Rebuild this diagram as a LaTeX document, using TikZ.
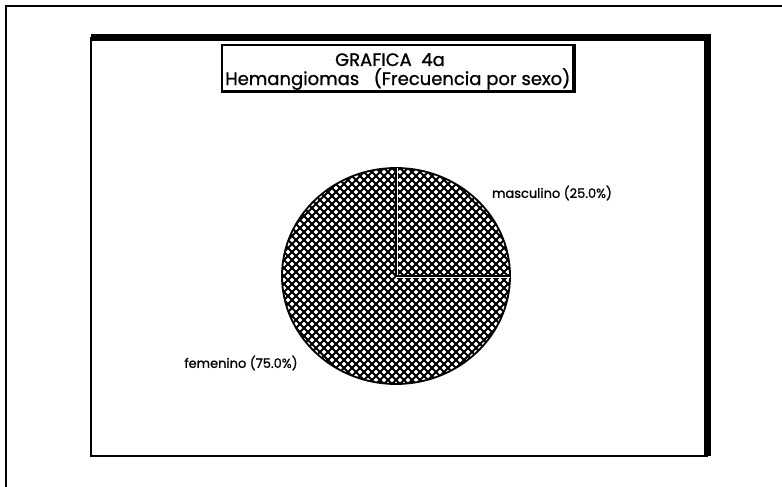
\documentclass[tikz,border=0pt]{standalone}
\usepackage{fontspec}
\setmainfont{Poppins}
\newfontfamily\plotfont{Poppins}[FakeBold=1.0]
\usetikzlibrary{calc}
\begin{document}
\begin{tikzpicture}[x=1pt,y=-1pt,
  frame/.style={line width=1.5pt},
  thick bar/.style={fill=black},
  lbl/.style={font=\plotfont\fontsize{13}{15}\selectfont, inner sep=0pt},
  ttl/.style={font=\plotfont\fontsize{18}{20}\selectfont, inner sep=0pt, anchor=base},
  hatch/.style={line width=1.8pt}]
\useasboundingbox (0,0) rectangle (782,487);
\fill[white] (0,0) rectangle (782,487);
% outer frame (top and left)
\draw[line width=2pt] (6,487) -- (6,6) -- (782,6);
% inner frame
\draw[frame] (91,38) rectangle (707,456);
\fill[thick bar] (91,34) rectangle (711,41);
\fill[thick bar] (704,34) rectangle (711,456);
% title box
\draw[line width=1.2pt] (222,45) rectangle (574,92);
\fill[thick bar] (572,44) rectangle (576,93);
\fill[thick bar] (222,90.5) rectangle (576,93);
\node[ttl] (t1) at (390,66) {GRAFICA\ \ 4a};
\node[ttl, anchor=base west] (t2) at (225,85) {Hemangiomas\ \ \ (Frecuencia\ por\ sexo)};
% pie
\coordinate (c) at (396,276);
\begin{scope}
  \clip (c) ellipse[x radius=114, y radius=108];
  \foreach \i in {-360,-352,...,360} {
    \draw[hatch] ($(c)+(\i-250,-250)$) -- ($(c)+(\i+250,250)$);
    \draw[hatch] ($(c)+(\i+250,-250)$) -- ($(c)+(\i-250,250)$);
  }
\end{scope}
\draw[line width=1.8pt] (c) ellipse[x radius=114, y radius=108];
\draw[white,line width=3pt] (c) -- ++(0,-108);
\draw[white,line width=3pt] (c) -- ++(114,0);
\draw[line width=1.2pt] (c) -- ++(0,-108);
\draw[line width=1.2pt] (c) -- ++(114,0);
% labels
\node[lbl] (m) at (552,193) {masculino (25.0\%)};
\node[lbl] (f) at (241,363) {femenino (75.0\%)};
\end{tikzpicture}
\end{document}
